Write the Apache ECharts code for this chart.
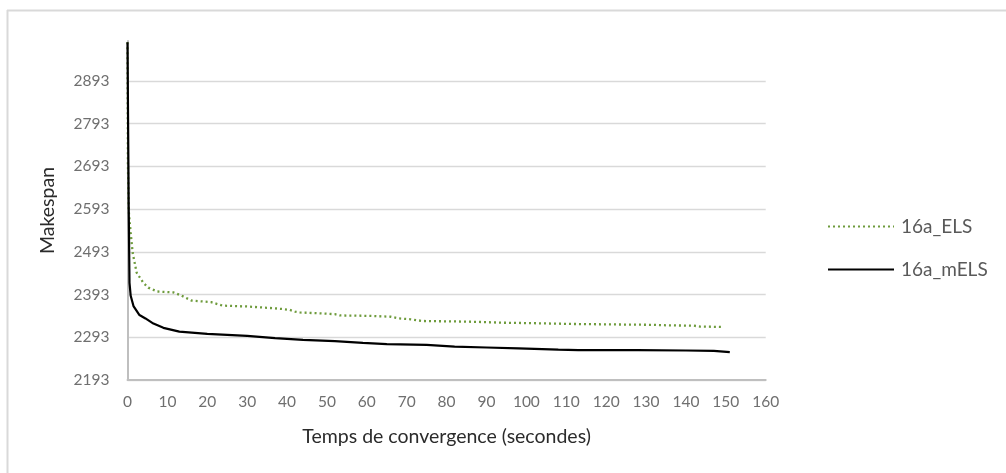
<!DOCTYPE html>
<html>
<head>
<meta charset="utf-8">
<title>Makespan vs temps de convergence</title>
<script src="https://cdn.jsdelivr.net/npm/echarts@6/dist/echarts.min.js"></script>
<style>
  html, body { margin: 0; padding: 0; background: #ffffff; }
  #chart { width: 1006px; height: 473px; }
</style>
</head>
<body>
<div id="chart"></div>
<script>
// Convergence of the best makespan over time, instance 16a
const seriesNames = ['16a_ELS', '16a_mELS'];

const elsTime = [0, 0.1, 0.3, 0.8, 1.3, 2.3, 4, 5.2, 7.5, 11.5, 13.4, 16, 21, 23.8, 30, 36.5, 39, 40.7, 42, 43.2, 48, 52, 53.3, 61, 66, 68, 71, 74, 82, 87.5, 94, 101, 112, 132, 135, 142, 143.5, 149.5];
const elsMakespan = [2983, 2700, 2590, 2537, 2490, 2444, 2420, 2409, 2400, 2398, 2391, 2379, 2375, 2367, 2365, 2361, 2359, 2357, 2353, 2351, 2349, 2347, 2344, 2343, 2341, 2337, 2335, 2331, 2330, 2329, 2327, 2326, 2324, 2322, 2321, 2320, 2318, 2317];

const melsTime = [0, 0.3, 0.5, 0.8, 1.5, 3, 4.5, 6.5, 9, 13, 20, 30, 37, 44, 52, 59, 65, 75, 82, 90, 98, 108, 113, 128, 140, 147, 151];
const melsMakespan = [2983, 2600, 2420, 2390, 2366, 2345, 2337, 2325, 2315, 2306, 2301, 2296, 2291, 2287, 2284, 2280, 2277, 2275, 2271, 2269, 2267, 2264, 2263, 2263, 2262, 2261, 2258];

// Axis ranges
const xMin = 0, xMax = 160, xStep = 10;
const yMin = 2193, yMax = 2986, yStep = 100;

const pairs = (xs, ys) => xs.map((x, i) => [x, ys[i]]);

const labelColor = '#6f6f6f';
const titleColor = '#2b2b2b';
const fontFamily = 'Lato, "Open Sans", sans-serif';

// one colour per horizontal grid line; the top edge (axis max) stays blank
const yLineCount = Math.floor((yMax - yMin) / yStep) + 2;
const gridColors = Array.from({ length: yLineCount }, (_, i) => i === yLineCount - 1 ? 'rgba(0,0,0,0)' : '#d9d9d9');

const chart = echarts.init(document.getElementById('chart'), null, { renderer: 'canvas' });

chart.setOption({
  animation: false,
  backgroundColor: '#ffffff',
  textStyle: { fontFamily: fontFamily },
  graphic: [
    { type: 'line', shape: { x1: 7, y1: 10.5, x2: 1006, y2: 10.5 }, style: { stroke: '#d9d9d9', lineWidth: 2 } },
    { type: 'line', shape: { x1: 7.5, y1: 10, x2: 7.5, y2: 473 }, style: { stroke: '#d9d9d9', lineWidth: 2 } }
  ],
  grid: { left: 127.5, right: 240.3, top: 41, bottom: 93, containLabel: false },
  legend: {
    orient: 'vertical',
    left: 822,
    top: 212,
    itemWidth: 66,
    itemHeight: 20,
    itemGap: 24,
    itemStyle: { opacity: 0 },
    textStyle: { color: '#595959', fontSize: 19, fontFamily: fontFamily, padding: [0, 0, 0, 2] },
    data: seriesNames
  },
  xAxis: {
    type: 'value',
    min: xMin,
    max: xMax,
    interval: xStep,
    name: 'Temps de convergence (secondes)',
    nameLocation: 'middle',
    nameGap: 47,
    nameTextStyle: { color: titleColor, fontSize: 19.5, fontFamily: fontFamily },
    axisLine: { show: true, lineStyle: { color: '#bfbfbf', width: 2 } },
    axisTick: { show: false },
    axisLabel: { color: labelColor, fontSize: 15.5, margin: 14, fontFamily: fontFamily },
    splitLine: { show: false }
  },
  yAxis: {
    type: 'value',
    min: yMin,
    max: yMax,
    interval: yStep,
    name: 'Makespan',
    nameLocation: 'middle',
    nameGap: 70,
    nameTextStyle: { color: titleColor, fontSize: 19.5, fontFamily: fontFamily },
    axisLine: { show: true, lineStyle: { color: '#bfbfbf', width: 2 } },
    axisTick: { show: false },
    axisLabel: { color: labelColor, fontSize: 15.5, margin: 18, showMaxLabel: false, fontFamily: fontFamily, formatter: v => String(v) },
    splitLine: { show: true, lineStyle: { color: gridColors, width: 1.3 } }
  },
  series: [
    {
      name: seriesNames[0],
      type: 'line',
      data: pairs(elsTime, elsMakespan),
      symbol: 'none',
      z: 3,
      lineStyle: { color: '#6e9b3c', width: 2.3, type: [2, 3] },
      itemStyle: { color: '#6e9b3c' }
    },
    {
      name: seriesNames[1],
      type: 'line',
      data: pairs(melsTime, melsMakespan),
      symbol: 'none',
      z: 4,
      lineStyle: { color: '#000000', width: 2.2 },
      itemStyle: { color: '#000000' }
    }
  ]
});
</script>
</body>
</html>
